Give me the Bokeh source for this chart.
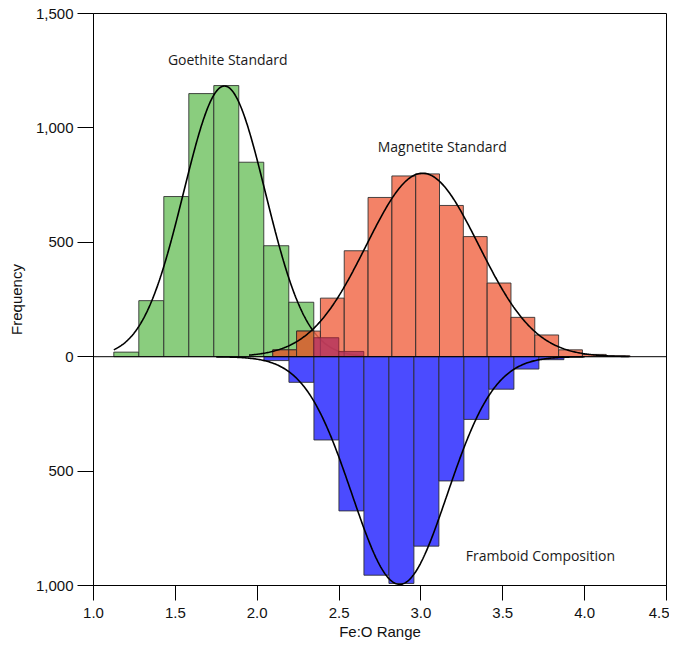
import numpy as np
from bokeh.plotting import figure
from bokeh.models import (ColumnDataSource, Range1d, FixedTicker, Span,
                          CustomJSTickFormatter, NumeralTickFormatter)
from bokeh.core.properties import value
from bokeh.embed import file_html
from bokeh.resources import INLINE

# ---------------- data ----------------
goethite_start = 1.124
goethite_bin = 0.1527
goethite = [20, 245, 700, 1150, 1185, 850, 485, 238]
goethite_tail = [83, 23]          # drawn in crimson, above the magnetite bars

magnetite_start = 2.095
magnetite_bin = 0.1455
magnetite = [30, 112, 256, 463, 696, 790, 799, 661, 525, 322, 172, 95, 30, 10, 4]

framboid_start = 2.041
framboid_bin = 0.1527
framboid = [17, 112, 364, 674, 955, 991, 828, 543, 274, 142, 54, 13]

# fitted normal curves: mean, sd, peak height, x from, x to
goethite_fit = (1.80, 0.25, 1183, 1.124, 2.65)
magnetite_fit = (3.01, 0.344, 802, 1.95, 4.27)
framboid_fit = (2.87, 0.29, 995, 1.75, 4.00)

x_ticks = [1.0, 1.5, 2.0, 2.5, 3.0, 3.5, 4.0, 4.5]
y_ticks = [-1000, -500, 0, 500, 1000, 1500]

labels = ["Goethite Standard", "Magnetite Standard", "Framboid Composition"]
label_x = [1.82, 3.13, 3.73]
label_y = [1300, 920, -870]

# ---------------- helpers ----------------
def bins(start, width, heights, sign=1):
    n = len(heights)
    left = [start + i * width for i in range(n)]
    right = [start + (i + 1) * width for i in range(n)]
    top = [sign * h if sign > 0 else 0 for h in heights]
    bottom = [0 if sign > 0 else sign * h for h in heights]
    return dict(left=left, right=right, top=top, bottom=bottom)

def curve(fit, sign=1):
    mu, sd, peak, x0, x1 = fit
    xs = np.linspace(x0, x1, 400)
    ys = sign * peak * np.exp(-(xs - mu) ** 2 / (2 * sd ** 2))
    return xs, ys

g = bins(goethite_start, goethite_bin, goethite)
gt = bins(goethite_start + len(goethite) * goethite_bin, goethite_bin, goethite_tail)
m = bins(magnetite_start, magnetite_bin, magnetite)
f = bins(framboid_start, framboid_bin, framboid, sign=-1)

# overlap of goethite and magnetite bars
ov = dict(left=[], right=[], top=[], bottom=[])
for gl, gr, gtp in zip(g["left"], g["right"], g["top"]):
    for ml, mr, mtp in zip(m["left"], m["right"], m["top"]):
        lo, hi = max(gl, ml), min(gr, mr)
        if hi > lo:
            ov["left"].append(lo); ov["right"].append(hi)
            ov["top"].append(min(gtp, mtp)); ov["bottom"].append(0)

# ---------------- figure ----------------
p = figure(frame_width=573, frame_height=572,
           min_border_left=93, min_border_top=13, min_border_right=3, min_border_bottom=56,
           x_range=Range1d(1.0, 4.5), y_range=Range1d(-1000, 1500),
           output_backend="svg", toolbar_location=None)

p.xgrid.visible = False
p.ygrid.visible = False
p.outline_line_color = "black"
p.outline_line_width = 1
p.background_fill_color = "white"
p.border_fill_color = "white"

edge = dict(line_color="#2a2a2a", line_width=1, line_alpha=0.85)

p.quad(source=ColumnDataSource(g), left="left", right="right", top="top", bottom="bottom",
       fill_color="#8acd7e", **edge)

gx, gy = curve(goethite_fit)
p.line(gx, gy, line_color="black", line_width=1.6)

p.quad(source=ColumnDataSource(m), left="left", right="right", top="top", bottom="bottom",
       fill_color="#f16c4c", fill_alpha=0.85, **edge)
p.quad(source=ColumnDataSource(ov), left="left", right="right", top="top", bottom="bottom",
       fill_color="#cf6c38", **edge)
p.quad(source=ColumnDataSource(gt), left="left", right="right", top="top", bottom="bottom",
       fill_color="#b1315d", fill_alpha=0.8, line_color="#7a2030", line_width=1, line_alpha=0.8)

p.quad(source=ColumnDataSource(f), left="left", right="right", top="top", bottom="bottom",
       fill_color="#4b4bff", **edge)

mx, my = curve(magnetite_fit)
p.line(mx, my, line_color="black", line_width=1.6)
fx, fy = curve(framboid_fit, sign=-1)
p.line(fx, fy, line_color="black", line_width=1.6)

p.add_layout(Span(location=0, dimension="width", line_color="black", line_width=1))

p.text(x=label_x, y=label_y, text=labels, text_align="center", text_baseline="middle",
       text_font=value("Open Sans"), text_font_size="14px", text_color="#1a1a1a")

# axes
for ax in (p.xaxis[0], p.yaxis[0]):
    ax.axis_line_color = "black"
    ax.axis_line_width = 1
    ax.major_tick_line_color = "black"
    ax.major_tick_in = 0
    ax.minor_tick_line_color = None
    ax.major_label_text_font = "Liberation Sans"
    ax.major_label_text_font_size = "15px"
    ax.major_label_text_color = "#111111"
    ax.axis_label_text_font = "Liberation Sans"
    ax.axis_label_text_font_size = "15px"
    ax.axis_label_text_font_style = "normal"
    ax.axis_label_text_color = "#111111"

p.xaxis.ticker = FixedTicker(ticks=x_ticks)
p.xaxis.formatter = NumeralTickFormatter(format="0.0")
p.xaxis.axis_label = "Fe:O Range"
p.xaxis.major_tick_out = 15
p.xaxis.major_label_standoff = 7
p.xaxis.axis_label_standoff = 2

p.yaxis.ticker = FixedTicker(ticks=y_ticks)
p.yaxis.formatter = CustomJSTickFormatter(code="return Math.abs(tick).toLocaleString('en-US');")
p.yaxis.axis_label = "Frequency"
p.yaxis.major_tick_out = 16
p.yaxis.major_label_standoff = 4
p.yaxis.axis_label_standoff = 8

open("out.html", "w").write(file_html(p, INLINE))
